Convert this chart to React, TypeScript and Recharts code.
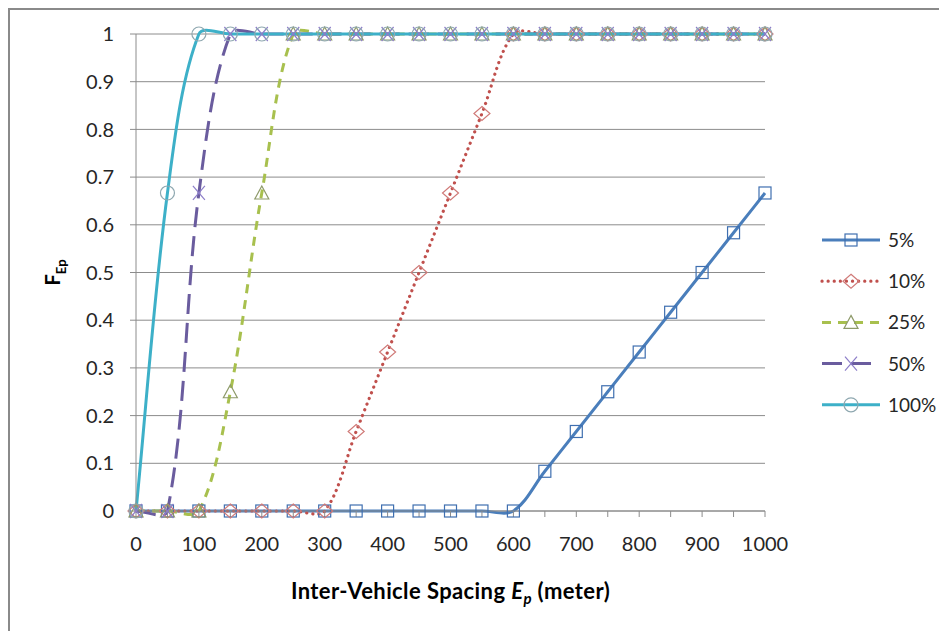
import React from 'react';
import { LineChart, Line, XAxis, YAxis, CartesianGrid, Legend } from 'recharts';

const spacing = [0, 50, 100, 150, 200, 250, 300, 350, 400, 450, 500, 550, 600, 650, 700, 750, 800, 850, 900, 950, 1000];
const f5 = [0, 0, 0, 0, 0, 0, 0, 0, 0, 0, 0, 0, 0, 0.0833, 0.1667, 0.25, 0.3333, 0.4167, 0.5, 0.5833, 0.6667];
const f10 = [0, 0, 0, 0, 0, 0, 0, 0.1667, 0.3333, 0.5, 0.6667, 0.8333, 1, 1, 1, 1, 1, 1, 1, 1, 1];
const f25 = [0, 0, 0, 0.25, 0.6667, 1, 1, 1, 1, 1, 1, 1, 1, 1, 1, 1, 1, 1, 1, 1, 1];
const f50 = [0, 0, 0.6667, 1, 1, 1, 1, 1, 1, 1, 1, 1, 1, 1, 1, 1, 1, 1, 1, 1, 1];
const f100 = [0, 0.6667, 1, 1, 1, 1, 1, 1, 1, 1, 1, 1, 1, 1, 1, 1, 1, 1, 1, 1, 1];

const seriesLabels = ['5%', '10%', '25%', '50%', '100%'];
const xTicks = [0, 50, 100, 150, 200, 250, 300, 350, 400, 450, 500, 550, 600, 650, 700, 750, 800, 850, 900, 950, 1000];
const yTicks = [0, 0.1, 0.2, 0.3, 0.4, 0.5, 0.6, 0.7, 0.8, 0.9, 1];
const yMinorTicks = [0, 0.02, 0.04, 0.06, 0.08, 0.1, 0.12, 0.14, 0.16, 0.18, 0.2, 0.22, 0.24, 0.26, 0.28, 0.3, 0.32, 0.34, 0.36, 0.38, 0.4, 0.42, 0.44, 0.46, 0.48, 0.5, 0.52, 0.54, 0.56, 0.58, 0.6, 0.62, 0.64, 0.66, 0.68, 0.7, 0.72, 0.74, 0.76, 0.78, 0.8, 0.82, 0.84, 0.86, 0.88, 0.9, 0.92, 0.94, 0.96, 0.98, 1];

const data = spacing.map((x, i) => ({ x, s5: f5[i], s10: f10[i], s25: f25[i], s50: f50[i], s100: f100[i] }));

type Style = { key: string; color: string; markerColor: string; dash?: string; cap?: 'round' | 'butt'; width: number; marker: string };
const styles: Style[] = [
  { key: 's5', color: '#4A7EBB', markerColor: '#3F6FB0', width: 3, marker: 'square' },
  { key: 's10', color: '#C0504D', markerColor: '#D07A78', dash: '0.1 6', cap: 'round', width: 3.2, marker: 'diamond' },
  { key: 's25', color: '#A8C04E', markerColor: '#8E9A6A', dash: '9 7', width: 3, marker: 'triangle' },
  { key: 's50', color: '#6A5C9E', markerColor: '#8C7DC8', dash: '20 9', width: 3, marker: 'x' },
  { key: 's100', color: '#3DB0C8', markerColor: '#8FA8B0', width: 3, marker: 'circle' },
];

const FONT = 'Lato, "Open Sans", sans-serif';

// Smoothed line similar to spreadsheet "smoothed line" (chord-weighted Catmull-Rom Bezier)
function smoothCurve(context: any) {
  let xs: number[] = [];
  let ys: number[] = [];
  const dist = (i: number, j: number) => Math.hypot(xs[j] - xs[i], ys[j] - ys[i]);
  return {
    areaStart() {},
    areaEnd() {},
    lineStart() { xs = []; ys = []; },
    point(x: number, y: number) { xs.push(+x); ys.push(+y); },
    lineEnd() {
      const n = xs.length;
      if (!n) return;
      context.moveTo(xs[0], ys[0]);
      for (let i = 0; i < n - 1; i++) {
        const p0 = i > 0 ? i - 1 : i;
        const p1 = i;
        const p2 = i + 1;
        const p3 = i + 2 < n ? i + 2 : i + 1;
        const d01 = dist(p0, p1);
        const d12 = dist(p1, p2);
        const d23 = dist(p2, p3);
        const a = d01 + d12 > 0 ? d12 / (d01 + d12) / 3 : 0;
        const b = d12 + d23 > 0 ? d12 / (d12 + d23) / 3 : 0;
        const c1x = xs[p1] + (xs[p2] - xs[p0]) * a;
        const c1y = ys[p1] + (ys[p2] - ys[p0]) * a;
        const c2x = xs[p2] - (xs[p3] - xs[p1]) * b;
        const c2y = ys[p2] - (ys[p3] - ys[p1]) * b;
        context.bezierCurveTo(c1x, c1y, c2x, c2y, xs[p2], ys[p2]);
      }
    },
  };
}

function Marker({ type, cx, cy, color }: { type: string; cx: number; cy: number; color: string }) {
  const sw = 1.2;
  if (type === 'square') return <rect x={cx - 6} y={cy - 6} width={12} height={12} fill="none" stroke={color} strokeWidth={sw} />;
  if (type === 'diamond') return <polygon points={`${cx},${cy - 7} ${cx + 8},${cy} ${cx},${cy + 7} ${cx - 8},${cy}`} fill="none" stroke={color} strokeWidth={sw} />;
  if (type === 'triangle') return <polygon points={`${cx},${cy - 7} ${cx + 7},${cy + 6} ${cx - 7},${cy + 6}`} fill="none" stroke={color} strokeWidth={sw} />;
  if (type === 'x') return (
    <g stroke={color} strokeWidth={sw}>
      <line x1={cx - 6} y1={cy - 7} x2={cx + 6} y2={cy + 7} />
      <line x1={cx + 6} y1={cy - 7} x2={cx - 6} y2={cy + 7} />
    </g>
  );
  return <circle cx={cx} cy={cy} r={7} fill="none" stroke={color} strokeWidth={sw} />;
}

const makeDot = (s: Style) => (props: any) => {
  const { cx, cy, index } = props;
  if (cx == null || cy == null) return <g key={index} />;
  return <g key={`${s.key}-${index}`}><Marker type={s.marker} cx={cx} cy={cy} color={s.markerColor} /></g>;
};

function LegendContent() {
  return (
    <svg width={130} height={190} style={{ overflow: 'visible' }}>
      {styles.map((s, i) => (
        <g key={s.key} transform={`translate(0, ${i * 41.2})`}>
          <line x1={0} x2={58} y1={10} y2={10} stroke={s.color} strokeWidth={s.width} strokeDasharray={s.dash} strokeLinecap={s.cap || 'butt'} />
          <Marker type={s.marker} cx={29} cy={10} color={s.markerColor} />
          <text x={66} y={17} fontSize={19} fill="#262626" fontFamily={FONT}>{seriesLabels[i]}</text>
        </g>
      ))}
    </svg>
  );
}

const YLabel = (props: any) => {
  const vb = props.viewBox || {};
  const cy = vb.y + vb.height / 2;
  const x = 50;
  return (
    <text x={x} y={cy} transform={`rotate(-90, ${x}, ${cy})`} textAnchor="middle" fontFamily={FONT} fontWeight="bold" fontSize={20} fill="#000">
      F<tspan fontSize={13} dy={6}>Ep</tspan>
    </text>
  );
};

const XLabel = (props: any) => {
  const vb = props.viewBox || {};
  const cx = vb.x + vb.width / 2;
  return (
    <text x={cx} y={589} textAnchor="middle" fontFamily={FONT} fontWeight="bold" fontSize={22} letterSpacing={0.4} fill="#000">
      Inter-Vehicle Spacing <tspan fontStyle="italic">E</tspan><tspan fontStyle="italic" fontSize={15} dy={5}>p</tspan><tspan dy={-5}> (meter)</tspan>
    </text>
  );
};

export default function App() {
  return (
    <div style={{ width: 937, height: 623, borderTop: '2px solid #8a8a8a', borderLeft: '2px solid #8a8a8a', position: 'relative', overflow: 'hidden', background: '#fff' }}>
      <LineChart width={937} height={620} data={data} margin={{ top: 24, right: 182, bottom: 59, left: 0 }}>
        <CartesianGrid yAxisId="main" xAxisId="main" vertical={false} stroke="#8c8c8c" strokeWidth={1} />
        <XAxis
          xAxisId="main"
          dataKey="x"
          type="number"
          domain={[0, 1000]}
          ticks={xTicks}
          interval={0}
          tickFormatter={(v: number) => (v % 100 === 0 ? String(v) : '')}
          tick={{ fontSize: 20, fill: '#262626', fontFamily: FONT }}
          tickSize={6}
          tickMargin={20}
          stroke="#8c8c8c"
          height={60}
          label={<XLabel />}
        />
        <YAxis
          yAxisId="main"
          type="number"
          domain={[0, 1]}
          ticks={yTicks}
          interval={0}
          tick={{ fontSize: 20, fill: '#262626', fontFamily: FONT }}
          tickSize={6}
          tickMargin={16}
          stroke="#8c8c8c"
          width={126}
          label={<YLabel />}
        />
        <YAxis
          yAxisId="minor"
          type="number"
          domain={[0, 1]}
          ticks={yMinorTicks}
          interval={0}
          mirror
          orientation="left"
          tickFormatter={() => ''}
          tickSize={5}
          axisLine={false}
          stroke="#8c8c8c"
          width={0}
        />
        <Legend layout="horizontal" verticalAlign="middle" align="center" content={<LegendContent />} wrapperStyle={{ left: 812, top: 220, width: 130 }} />
        {styles.map((s, i) => (
          <Line
            key={s.key}
            xAxisId="main"
            yAxisId="main"
            name={seriesLabels[i]}
            dataKey={s.key}
            type={smoothCurve as any}
            stroke={s.color}
            strokeWidth={s.width}
            strokeDasharray={s.dash}
            strokeLinecap={s.cap || 'butt'}
            dot={makeDot(s)}
            activeDot={false}
            isAnimationActive={false}
          />
        ))}
      </LineChart>
    </div>
  );
}
